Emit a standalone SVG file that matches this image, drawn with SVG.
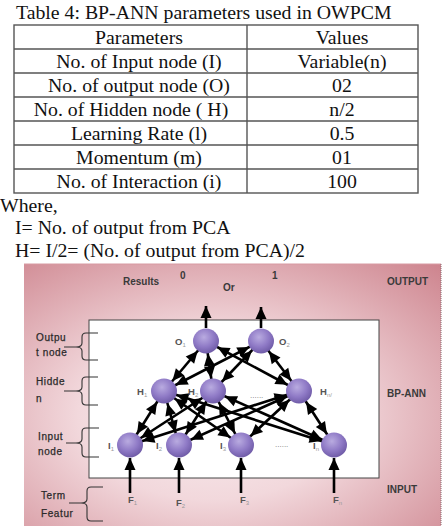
<svg xmlns="http://www.w3.org/2000/svg" width="447" height="531" viewBox="0 0 447 531">
<style>
.serif{font-family:"Liberation Serif","Times New Roman",serif;font-size:19.8px;fill:#111}
.grid{stroke:#555;stroke-width:1.4;fill:none}
.sans{font-family:"Liberation Sans",Arial,sans-serif;fill:#333}
.hdr{font-size:10px;font-weight:bold;fill:#3a3a3a}
.lbl{font-size:10px;fill:#2a2a2a;letter-spacing:0.6px;stroke:#2a2a2a;stroke-width:0.25}
.nl{font-size:9.5px;font-weight:bold;fill:#555}
.sub{font-size:6px;fill:#999;font-weight:normal}
.dots{font-size:8px;fill:#777}
.brace{stroke:#333;stroke-width:1.1;fill:none}
.conn{stroke:#000;stroke-width:2.6;fill:none}
.node{fill:url(#sphere)}
</style>
<defs>
<radialGradient id="bg" cx="0.45" cy="0.58" r="0.8">
<stop offset="0" stop-color="#f9eef0"/>
<stop offset="0.4" stop-color="#f2d8dc"/>
<stop offset="1" stop-color="#cd838d"/>
</radialGradient>
<radialGradient id="sphere" cx="0.42" cy="0.35" r="0.7">
<stop offset="0" stop-color="#b9abe0"/>
<stop offset="0.55" stop-color="#8f7ac6"/>
<stop offset="1" stop-color="#6a56a2"/>
</radialGradient>
<marker id="bi" markerUnits="userSpaceOnUse" markerWidth="30" markerHeight="12" refX="25" refY="5.5" orient="auto-start-reverse" overflow="visible">
<path d="M0,0 L12,5.5 L0,11 z" fill="#000"/>
</marker>
<marker id="tip" markerUnits="userSpaceOnUse" markerWidth="12" markerHeight="12" refX="12" refY="5.5" orient="auto" overflow="visible">
<path d="M0,0 L12,5.5 L0,11 z" fill="#000"/>
</marker>
</defs>
<rect width="447" height="531" fill="#fff"/>

<!-- Table -->
<g id="table">
<text class="serif" x="16" y="19">Table 4: BP-ANN parameters used in OWPCM</text>
<rect class="grid" x="14" y="25" width="404" height="168"/>
<line class="grid" x1="247" y1="25" x2="247" y2="193"/>
<line class="grid" x1="14" y1="49" x2="418" y2="49"/>
<line class="grid" x1="14" y1="73" x2="418" y2="73"/>
<line class="grid" x1="14" y1="97" x2="418" y2="97"/>
<line class="grid" x1="14" y1="121" x2="418" y2="121"/>
<line class="grid" x1="14" y1="145" x2="418" y2="145"/>
<line class="grid" x1="14" y1="169" x2="418" y2="169"/>
<g text-anchor="middle">
<text class="serif" x="139" y="44">Parameters</text>
<text class="serif" x="342" y="44">Values</text>
<text class="serif" x="139" y="68">No. of Input node (I)</text>
<text class="serif" x="342" y="68">Variable(n)</text>
<text class="serif" x="139" y="92">No. of output node (O)</text>
<text class="serif" x="342" y="92">02</text>
<text class="serif" x="131" y="116">No. of Hidden node ( H)</text>
<text class="serif" x="342" y="116">n/2</text>
<text class="serif" x="139" y="140">Learning Rate (l)</text>
<text class="serif" x="342" y="140">0.5</text>
<text class="serif" x="139" y="164">Momentum (m)</text>
<text class="serif" x="342" y="164">01</text>
<text class="serif" x="139" y="188">No. of Interaction (i)</text>
<text class="serif" x="342" y="188">100</text>
</g>
</g>

<g id="notes">
<text class="serif" x="0" y="212">Where,</text>
<text class="serif" x="15" y="234">I= No. of output from PCA</text>
<text class="serif" x="15" y="257">H= I/2= (No. of output from PCA)/2</text>
</g>

<!-- Diagram background -->
<g id="panel">
<rect x="24" y="264" width="417" height="262" fill="url(#bg)"/>
<line x1="24" y1="264" x2="441" y2="264" stroke="#d79aa2" stroke-width="1"/>
<line x1="441" y1="264" x2="441" y2="526" stroke="#8a6a6e" stroke-width="1" stroke-dasharray="1,1"/>
<rect x="89" y="320" width="290" height="158" fill="#fff" stroke="#444" stroke-width="1"/>
</g>

<g id="headers" class="sans">
<text class="hdr" x="123" y="285">Results</text>
<text class="hdr" x="180" y="279">0</text>
<text class="hdr" x="223" y="291">Or</text>
<text class="hdr" x="272" y="279">1</text>
<text class="hdr" x="387" y="285">OUTPUT</text>
<text class="hdr" x="387" y="397">BP-ANN</text>
<text class="hdr" x="387" y="493">INPUT</text>
</g>

<g id="layer-labels" class="sans">
<text class="lbl" x="36" y="341">Outpu</text>
<text class="lbl" x="36" y="356">t node</text>
<path class="brace" d="M98,333 H86 Q82,333 82,337 V343 Q82,347 76,347 Q82,347 82,351 V356 Q82,360 86,360 H98 M64,347 H76"/>
<text class="lbl" x="36" y="385">Hidde</text>
<text class="lbl" x="36" y="402">n</text>
<path class="brace" d="M98,377 H86 Q82,377 82,381 V387 Q82,391 76,391 Q82,391 82,395 V401 Q82,405 86,405 H98 M64,391 H76"/>
<text class="lbl" x="38" y="440">Input</text>
<text class="lbl" x="38" y="455">node</text>
<path class="brace" d="M99,428 H86 Q82,428 82,432 V439 Q82,443 76,443 Q82,443 82,447 V453 Q82,457 86,457 H99 M66,443 H76"/>
<text class="lbl" x="41" y="499">Term</text>
<text class="lbl" x="41" y="517">Featur</text>
<path class="brace" d="M103,487 H91 Q87,487 87,491 V499 Q87,503 81,503 Q87,503 87,507 V517 Q87,521 91,521 H103 M69,503 H81"/>
</g>

<!-- Connectors -->
<g id="connectors" class="conn">
<line x1="206" y1="341" x2="164" y2="391" marker-start="url(#bi)" marker-end="url(#bi)"/>
<line x1="206" y1="341" x2="213" y2="391" marker-start="url(#bi)" marker-end="url(#bi)"/>
<line x1="206" y1="341" x2="299" y2="391" marker-start="url(#bi)" marker-end="url(#bi)"/>
<line x1="261" y1="341" x2="164" y2="391" marker-start="url(#bi)" marker-end="url(#bi)"/>
<line x1="261" y1="341" x2="213" y2="391" marker-start="url(#bi)" marker-end="url(#bi)"/>
<line x1="261" y1="341" x2="299" y2="391" marker-start="url(#bi)" marker-end="url(#bi)"/>
<line x1="164" y1="391" x2="130" y2="445" marker-start="url(#bi)" marker-end="url(#bi)"/>
<line x1="164" y1="391" x2="179" y2="445" marker-start="url(#bi)" marker-end="url(#bi)"/>
<line x1="164" y1="391" x2="241" y2="445" marker-start="url(#bi)" marker-end="url(#bi)"/>
<line x1="164" y1="391" x2="334" y2="445" marker-start="url(#bi)" marker-end="url(#bi)"/>
<line x1="213" y1="391" x2="130" y2="445" marker-start="url(#bi)" marker-end="url(#bi)"/>
<line x1="213" y1="391" x2="179" y2="445" marker-start="url(#bi)" marker-end="url(#bi)"/>
<line x1="213" y1="391" x2="241" y2="445" marker-start="url(#bi)" marker-end="url(#bi)"/>
<line x1="213" y1="391" x2="334" y2="445" marker-start="url(#bi)" marker-end="url(#bi)"/>
<line x1="299" y1="391" x2="130" y2="445" marker-start="url(#bi)" marker-end="url(#bi)"/>
<line x1="299" y1="391" x2="179" y2="445" marker-start="url(#bi)" marker-end="url(#bi)"/>
<line x1="299" y1="391" x2="241" y2="445" marker-start="url(#bi)" marker-end="url(#bi)"/>
<line x1="299" y1="391" x2="334" y2="445" marker-start="url(#bi)" marker-end="url(#bi)"/>
<line x1="206" y1="328" x2="206" y2="306" marker-end="url(#tip)"/>
<line x1="261" y1="328" x2="261" y2="307" marker-end="url(#tip)"/>
<line x1="130" y1="493" x2="130" y2="458" marker-end="url(#tip)"/>
<line x1="179" y1="493" x2="179" y2="458" marker-end="url(#tip)"/>
<line x1="241" y1="493" x2="241" y2="458" marker-end="url(#tip)"/>
<line x1="334" y1="493" x2="334" y2="458" marker-end="url(#tip)"/>
</g>

<!-- Nodes -->
<g id="node-O1"><ellipse class="node" cx="206" cy="341" rx="13" ry="12.5"/><text class="sans nl" x="175" y="345">O<tspan class="sub" dy="2">1</tspan></text></g>
<g id="node-O2"><ellipse class="node" cx="261" cy="341" rx="13" ry="12.5"/><text class="sans nl" x="279" y="345">O<tspan class="sub" dy="2">2</tspan></text></g>
<g id="node-H1"><ellipse class="node" cx="164" cy="391" rx="13" ry="12.5"/><text class="sans nl" x="137" y="395">H<tspan class="sub" dy="2">1</tspan></text></g>
<g id="node-H2"><ellipse class="node" cx="213" cy="391" rx="13" ry="12.5"/><text class="sans nl" x="188" y="395">H<tspan class="sub" dy="2">2</tspan></text></g>
<g id="node-Hn"><ellipse class="node" cx="299" cy="391" rx="13" ry="12.5"/><text class="sans nl" x="320" y="395">H<tspan class="sub" dy="2">n/</tspan></text></g>
<g id="node-I1"><ellipse class="node" cx="130" cy="445" rx="13" ry="12.5"/><text class="sans nl" x="108" y="449">I<tspan class="sub" dy="2">1</tspan></text></g>
<g id="node-I2"><ellipse class="node" cx="179" cy="445" rx="13" ry="12.5"/><text class="sans nl" x="156" y="449">I<tspan class="sub" dy="2">2</tspan></text></g>
<g id="node-I3"><ellipse class="node" cx="241" cy="445" rx="13" ry="12.5"/><text class="sans nl" x="220" y="449">I<tspan class="sub" dy="2">3</tspan></text></g>
<g id="node-In"><ellipse class="node" cx="334" cy="445" rx="13" ry="12.5"/><text class="sans nl" x="313" y="449">I<tspan class="sub" dy="2">n</tspan></text></g>
<g id="dots" class="sans">
<text class="dots" x="250" y="398">......</text>
<text class="dots" x="275" y="447">......</text>
</g>
<g id="features" class="sans">
<text class="nl" x="128" y="503" fill="#333">F<tspan class="sub" dy="2">1</tspan></text>
<text class="nl" x="176" y="506" fill="#333">F<tspan class="sub" dy="2">2</tspan></text>
<text class="nl" x="240" y="503" fill="#333">F<tspan class="sub" dy="2">3</tspan></text>
<text class="nl" x="333" y="503" fill="#333">F<tspan class="sub" dy="2">n</tspan></text>
</g>
</svg>
